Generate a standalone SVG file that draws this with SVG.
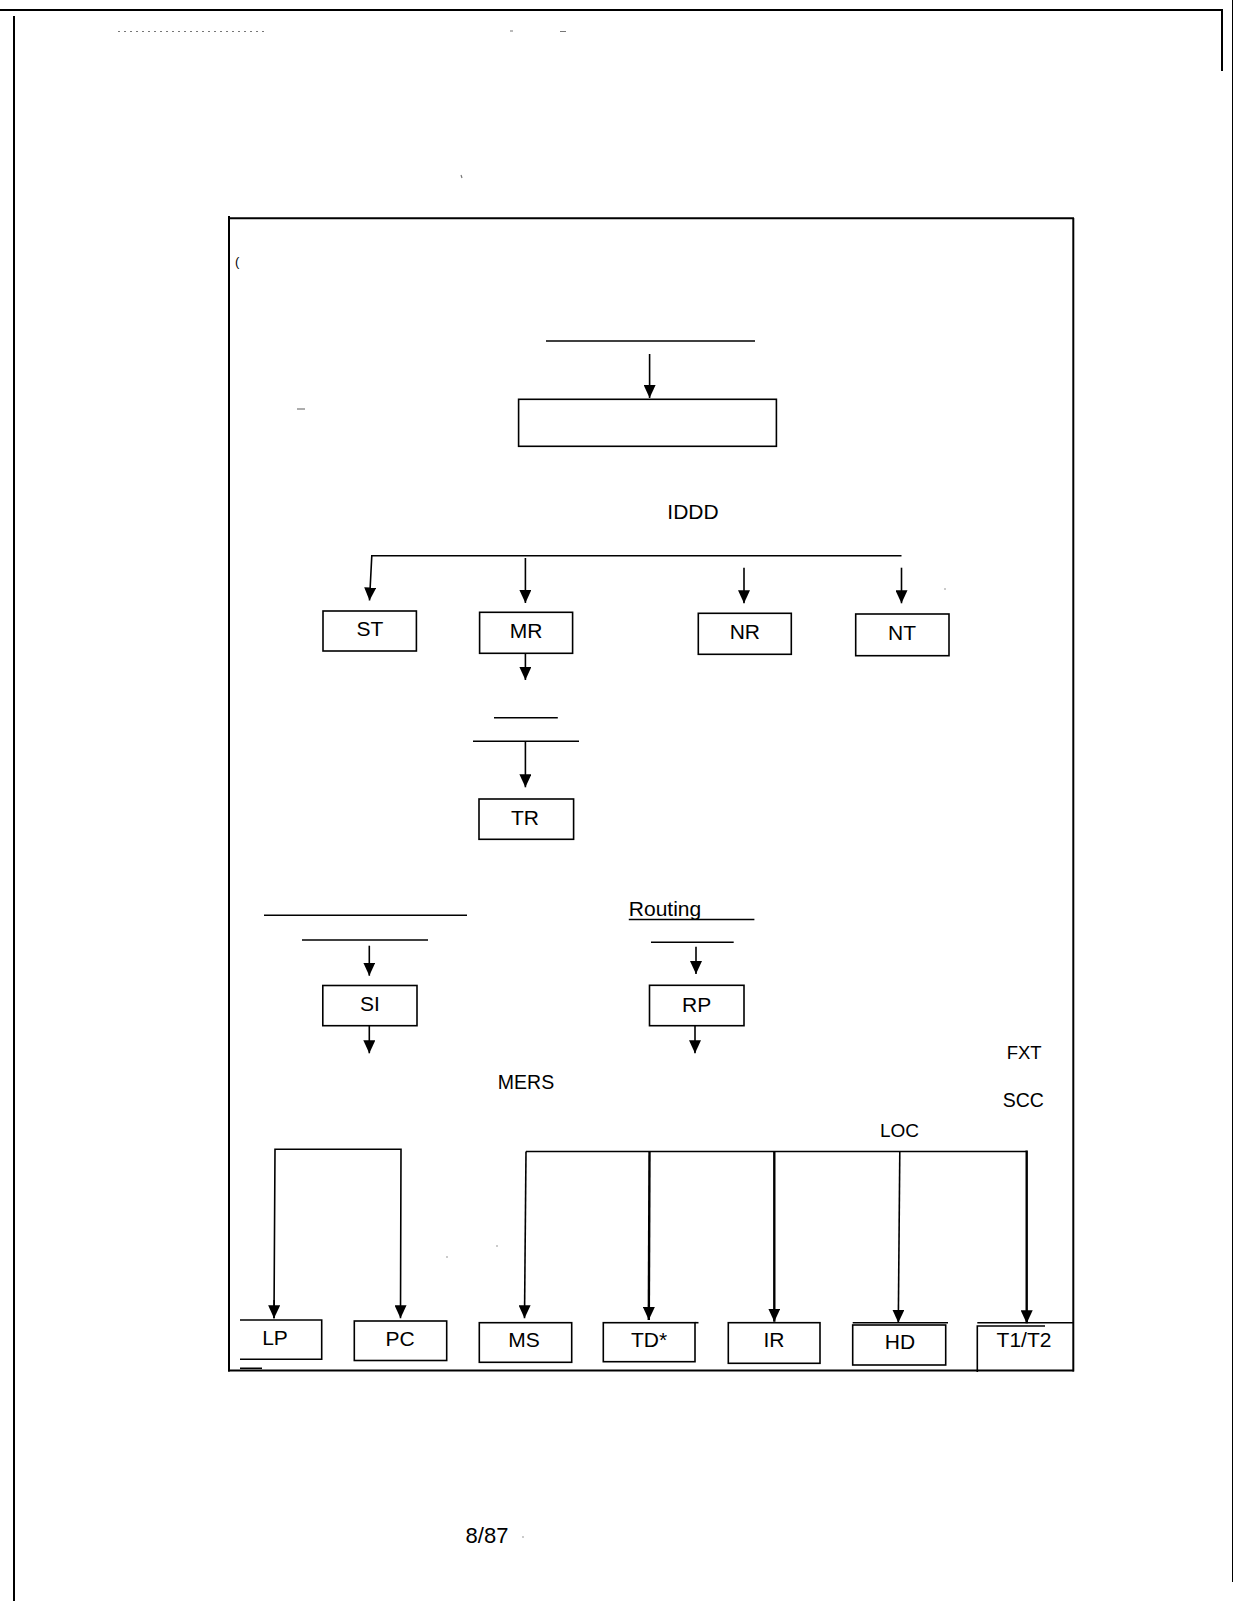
<svg xmlns="http://www.w3.org/2000/svg" width="1233" height="1601" viewBox="0 0 1233 1601">
<style>
  .ln { stroke:#000; stroke-width:1.6; fill:none; }
  .thk { stroke:#000; stroke-width:2.4; fill:none; }
  .frame { stroke:#000; stroke-width:2; fill:none; }
  .box { stroke:#000; stroke-width:1.6; fill:#fff; }
  .lbl { font-family:"Liberation Sans", Arial, sans-serif; font-size:21px; fill:#000; text-anchor:middle; }
  .txt { font-family:"Liberation Sans", Arial, sans-serif; fill:#000; }
  .faint { stroke:#777; stroke-width:1.2; fill:none; }
</style>
<defs>
  <marker id="ah" viewBox="0 0 13 12" refX="13" refY="6" markerWidth="13" markerHeight="12" markerUnits="userSpaceOnUse" orient="auto">
    <path d="M0,0 L13,6 L0,12 z" fill="#000"/>
  </marker>
</defs>
<rect x="0" y="0" width="1233" height="1601" fill="#fff"/>

<g id="page">
  <line class="frame" x1="0" y1="10" x2="1223" y2="10"/>
  <line class="frame" x1="1222" y1="9" x2="1222" y2="71"/>
  <line class="frame" x1="14" y1="16" x2="14" y2="1601"/>
  <line stroke="#000" stroke-width="1" x1="1232.5" y1="0" x2="1232.5" y2="1582"/>
  <path class="faint" stroke-dasharray="2 4" d="M118,31.5 H268"/>
  <path class="faint" d="M510,31 h3 M560,31.5 h6"/>
  <path class="faint" d="M461,175 l1,3"/>
</g>

<g id="inner-frame">
  <line class="frame" x1="228" y1="218.3" x2="1074" y2="218.3"/>
  <line class="frame" x1="229" y1="216" x2="229" y2="1371.5"/>
  <line class="frame" x1="1073.3" y1="218" x2="1073.3" y2="1371.5"/>
  <line class="frame" x1="228" y1="1370.5" x2="1074" y2="1370.5"/>
  <text class="txt" x="235" y="266" font-size="13">(</text>
  <path class="faint" d="M297,409 h8"/>
  <circle cx="945" cy="589" r="0.8" fill="#888"/>
  <circle cx="497" cy="1246" r="0.8" fill="#888"/>
  <circle cx="447" cy="1257" r="0.8" fill="#888"/>
</g>

<g id="connectors">
  <line class="ln" x1="546" y1="341" x2="755" y2="341"/>
  <line class="ln" x1="649.6" y1="354" x2="649.6" y2="398" marker-end="url(#ah)"/>

  <path class="ln" d="M901.5,555.7 H371.8 L369.5,600.5" marker-end="url(#ah)"/>
  <line class="ln" x1="525.4" y1="558" x2="525.4" y2="603" marker-end="url(#ah)"/>
  <line class="ln" x1="744" y1="567.7" x2="744" y2="603.3" marker-end="url(#ah)"/>
  <line class="ln" x1="901.5" y1="567.7" x2="901.5" y2="603.3" marker-end="url(#ah)"/>

  <line class="ln" x1="525.4" y1="653" x2="525.4" y2="680" marker-end="url(#ah)"/>
  <line class="ln" x1="494" y1="717.7" x2="557.8" y2="717.7"/>
  <line class="ln" x1="473" y1="741.3" x2="579" y2="741.3"/>
  <line class="ln" x1="525.4" y1="741.3" x2="525.4" y2="787.3" marker-end="url(#ah)"/>

  <line class="ln" x1="264" y1="915.3" x2="467" y2="915.3"/>
  <line class="ln" x1="302" y1="940" x2="428" y2="940"/>
  <line class="ln" x1="369.3" y1="945.7" x2="369.3" y2="975.7" marker-end="url(#ah)"/>
  <line class="ln" x1="369.3" y1="1025.7" x2="369.3" y2="1053.3" marker-end="url(#ah)"/>

  <line class="ln" x1="628.8" y1="919.5" x2="754.4" y2="919.5"/>
  <line class="ln" x1="651" y1="942.3" x2="733.7" y2="942.3"/>
  <line class="ln" x1="696" y1="946.7" x2="696" y2="974" marker-end="url(#ah)"/>
  <line class="ln" x1="695" y1="1025.7" x2="695" y2="1053.3" marker-end="url(#ah)"/>

  <path class="ln" d="M274,1318.3 L275,1149.3 H401 L400.5,1318.3" marker-end="url(#ah)"/>
  <path class="ln" d="M274.2,1300 L274,1318.3" marker-end="url(#ah)"/>

  <line class="ln" x1="526" y1="1151.5" x2="1026.7" y2="1151.5"/>
  <path class="ln" d="M526,1151.5 L524.5,1318.3" marker-end="url(#ah)"/>
  <line class="thk" x1="649.5" y1="1151.5" x2="648.8" y2="1320" marker-end="url(#ah)"/>
  <line class="thk" x1="774.3" y1="1151.5" x2="774.3" y2="1321.7" marker-end="url(#ah)"/>
  <line class="ln" x1="899.8" y1="1151.5" x2="898.3" y2="1322.7" marker-end="url(#ah)"/>
  <line class="thk" x1="1026.7" y1="1150.5" x2="1026.7" y2="1323.3" marker-end="url(#ah)"/>
</g>

<g id="node-top">
  <rect class="box" x="518.6" y="399.3" width="257.8" height="47"/>
</g>
<text id="label-iddd" class="lbl" x="693" y="519">IDDD</text>

<g id="node-ST">
  <rect class="box" x="323" y="611" width="93.4" height="40"/>
  <text class="lbl" x="370" y="636">ST</text>
</g>
<g id="node-MR">
  <rect class="box" x="479.6" y="612.3" width="93" height="41"/>
  <text class="lbl" x="526" y="638">MR</text>
</g>
<g id="node-NR">
  <rect class="box" x="698.3" y="613.3" width="93" height="41"/>
  <text class="lbl" x="744.8" y="639">NR</text>
</g>
<g id="node-NT">
  <rect class="box" x="855.7" y="614" width="93.3" height="41.7"/>
  <text class="lbl" x="902" y="640">NT</text>
</g>
<g id="node-TR">
  <rect class="box" x="479" y="799" width="94.6" height="40.3"/>
  <text class="lbl" x="525" y="825">TR</text>
</g>

<g id="node-SI">
  <rect class="box" x="322.8" y="985.5" width="94.2" height="40.2"/>
  <text class="lbl" x="370" y="1011">SI</text>
</g>
<text id="label-routing" class="txt" x="628.8" y="916" font-size="21">Routing</text>
<g id="node-RP">
  <rect class="box" x="649.5" y="985.3" width="94.5" height="40.4"/>
  <text class="lbl" x="696.6" y="1012">RP</text>
</g>

<text id="label-mers" class="txt" x="526" y="1089.3" font-size="19.5" text-anchor="middle">MERS</text>
<text id="label-fxt" class="txt" x="1006.7" y="1059.3" font-size="18.5">FXT</text>
<text id="label-scc" class="txt" x="1002.7" y="1107.3" font-size="19.5">SCC</text>
<text id="label-loc" class="txt" x="880" y="1136.7" font-size="19">LOC</text>

<g id="node-LP">
  <path class="ln" d="M240,1320 H321.7 V1359.3 H240"/>
  <line class="ln" x1="240" y1="1368.3" x2="262" y2="1368.3"/>
  <text class="lbl" x="275" y="1345">LP</text>
</g>
<g id="node-PC">
  <rect class="box" x="354.3" y="1321" width="92.4" height="39.5"/>
  <text class="lbl" x="400" y="1346">PC</text>
</g>
<g id="node-MS">
  <rect class="box" x="479.3" y="1322.7" width="92.4" height="39.6"/>
  <text class="lbl" x="524" y="1347">MS</text>
</g>
<g id="node-TD">
  <rect class="box" x="603.3" y="1322.7" width="91.7" height="39"/>
  <line class="ln" x1="695" y1="1322.7" x2="698.5" y2="1322.7"/>
  <text class="lbl" x="649" y="1347">TD*</text>
</g>
<g id="node-IR">
  <rect class="box" x="728.3" y="1322.7" width="91.7" height="40.6"/>
  <text class="lbl" x="774" y="1347">IR</text>
</g>
<g id="node-HD">
  <rect class="box" x="852.7" y="1325" width="93" height="40"/>
  <line class="ln" x1="852.7" y1="1322.7" x2="948" y2="1322.7"/>
  <text class="lbl" x="900" y="1349">HD</text>
</g>
<g id="node-T1T2">
  <path class="ln" d="M977.3,1372 V1326 H1045"/>
  <line class="ln" x1="977.3" y1="1322.7" x2="1073" y2="1322.7"/>
  <text class="lbl" x="1024" y="1347">T1/T2</text>
</g>

<text id="footer" class="txt" x="487" y="1542.5" font-size="22" text-anchor="middle">8/87</text>
<circle cx="523" cy="1537" r="0.8" fill="#888"/>
</svg>
